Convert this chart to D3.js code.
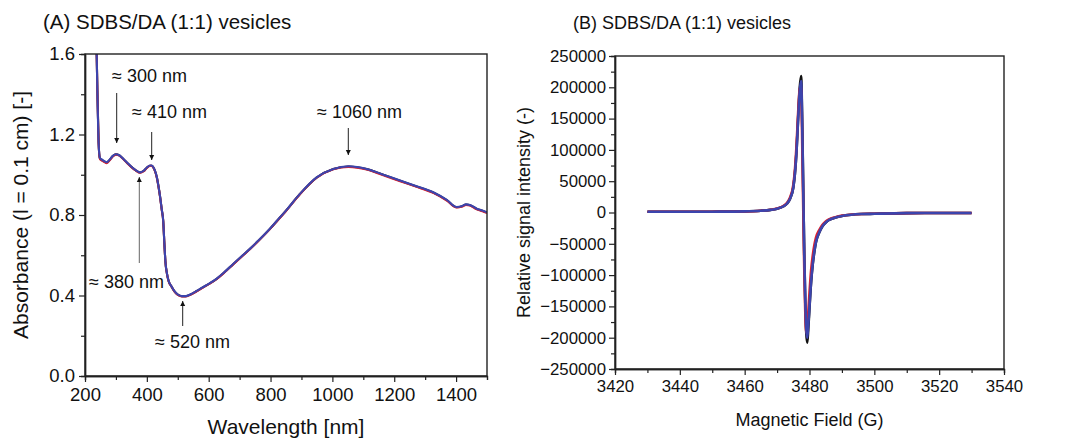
<!DOCTYPE html>
<html><head><meta charset="utf-8">
<script src="https://cdn.jsdelivr.net/npm/d3@7"></script>
<style>
html,body{margin:0;padding:0;background:#fff;}
svg{display:block;font-family:"Liberation Sans",Arial,sans-serif;}
</style></head>
<body><svg id="chart" width="1070" height="440"></svg>
<script>
// ---------- Panel A data (UV-Vis-NIR absorbance) ----------
const wavelength = [230,236,240,244,248,255,262,270,280,290,300,310,320,335,350,365,378,390,400,410,415,425,432,438,443,448,453,457,460,465,470,480,490,500,513,525,540,560,580,600,626,650,680,710,734,760,798,820,850,895,949,1003,1052,1111,1160,1219,1270,1326,1370,1402,1420,1432,1445,1467,1485,1500];
const absBlue  = [2.20,1.75,1.42,1.16,1.085,1.075,1.068,1.062,1.076,1.094,1.102,1.098,1.085,1.062,1.040,1.022,1.012,1.020,1.036,1.046,1.046,1.025,0.990,0.940,0.890,0.830,0.770,0.650,0.570,0.510,0.475,0.445,0.420,0.405,0.397,0.397,0.405,0.422,0.440,0.458,0.484,0.515,0.558,0.600,0.633,0.672,0.732,0.770,0.822,0.905,0.987,1.029,1.042,1.029,1.003,0.971,0.944,0.913,0.875,0.840,0.845,0.853,0.850,0.831,0.822,0.813];
const absRed   = [2.20,1.75,1.42,1.16,1.080,1.070,1.064,1.058,1.072,1.091,1.100,1.096,1.083,1.060,1.038,1.020,1.010,1.018,1.034,1.044,1.044,1.023,0.988,0.938,0.888,0.828,0.768,0.648,0.568,0.508,0.473,0.443,0.418,0.403,0.395,0.395,0.403,0.420,0.438,0.456,0.482,0.513,0.556,0.598,0.631,0.670,0.730,0.768,0.820,0.903,0.985,1.027,1.039,1.026,1.000,0.968,0.941,0.910,0.872,0.837,0.842,0.850,0.847,0.828,0.819,0.810];
const absBlack = [2.20,1.75,1.42,1.16,1.082,1.072,1.066,1.060,1.074,1.093,1.101,1.097,1.084,1.061,1.039,1.021,1.011,1.019,1.035,1.045,1.045,1.024,0.989,0.939,0.889,0.829,0.769,0.649,0.569,0.509,0.474,0.444,0.419,0.404,0.396,0.396,0.404,0.421,0.439,0.457,0.483,0.514,0.557,0.599,0.632,0.671,0.731,0.769,0.821,0.904,0.986,1.028,1.041,1.028,1.002,0.970,0.943,0.912,0.874,0.839,0.844,0.852,0.849,0.830,0.821,0.812];
const xTicksA = [200,400,600,800,1000,1200,1400];
const yTicksA = [0.0,0.4,0.8,1.2,1.6];
const annotationsA = [
  {label:"≈ 300 nm",  at:300,  dir:"down"},
  {label:"≈ 410 nm",  at:410,  dir:"down"},
  {label:"≈ 1060 nm", at:1060, dir:"down"},
  {label:"≈ 380 nm",  at:380,  dir:"up"},
  {label:"≈ 520 nm",  at:520,  dir:"up"}
];

// ---------- Panel B data (EPR spectrum) ----------
const field = [3430,3440,3450,3460,3465,3468,3470,3472,3473,3474,3475,3475.5,3476,3476.5,3477,3477.4,3477.8,3478.1,3478.4,3478.7,3479,3479.3,3479.6,3480,3480.5,3481,3481.5,3482,3483,3484,3485,3486,3488,3490,3493,3496,3500,3510,3520,3530];
const epBlue  = [1200,1100,1300,1800,2800,4200,6000,10000,14000,22000,40000,62000,98000,150000,195000,210000,125000,25000,-70000,-140000,-185000,-200000,-182000,-150000,-110000,-82000,-62000,-47000,-32000,-22000,-16000,-12000,-8000,-5500,-3500,-2500,-2000,-1000,-800,-700];
const epRed   = [1200,1100,1300,1800,2900,4400,6300,10500,15000,24000,44000,68000,108000,160000,198000,200000,95000,-5000,-95000,-160000,-192000,-185000,-162000,-128000,-92000,-69000,-52000,-40000,-28000,-19500,-14500,-11000,-7500,-5000,-3300,-2400,-1900,-1000,-800,-700];
const epBlack = [1200,1100,1300,1800,2800,4200,6000,10000,14000,22000,40000,62000,98000,152000,200000,218000,130000,27000,-72000,-145000,-192000,-208000,-188000,-152000,-111000,-82500,-62500,-47000,-32000,-22000,-16000,-12000,-8000,-5500,-3500,-2500,-2000,-1000,-800,-700];
const xTicksB = [3420,3440,3460,3480,3500,3520,3540];
const yTicksB = [-250000,-200000,-150000,-100000,-50000,0,50000,100000,150000,200000,250000];

const svg = d3.select("#chart");
const FONT = '"Liberation Sans",Arial,sans-serif';

function frame(g, x0, x1, y0, y1){
  g.append("rect").attr("x",x0).attr("y",y0).attr("width",x1-x0).attr("height",y1-y0)
   .attr("fill","none").attr("stroke","#222").attr("stroke-width",1.4);
}
function styleAxis(sel, fs){
  sel.selectAll("path.domain").attr("stroke","#222").attr("stroke-width",1.4);
  sel.selectAll(".tick line").attr("stroke","#222").attr("stroke-width",1.2);
  sel.selectAll(".tick text").attr("fill","#111").style("font-size",fs+"px").style("font-family",FONT);
}

// ================= Panel A =================
{
  const L=85,R=487,T=54,B=376;
  const x = d3.scaleLinear().domain([200,1500]).range([L,R]);
  const y = d3.scaleLinear().domain([0,1.6]).range([B,T]);
  const g = svg.append("g");
  const fs = 18.5;

  const xMinor = d3.range(300,1500,200);
  const yMinor = [0.2,0.6,1.0,1.4];
  g.append("g").attr("transform",`translate(0,${B})`)
    .call(d3.axisBottom(x).tickValues(xMinor).tickSize(4).tickFormat(""))
    .call(s=>styleAxis(s,fs));
  g.append("g").attr("transform",`translate(${L},0)`)
    .call(d3.axisLeft(y).tickValues(yMinor).tickSize(4).tickFormat(""))
    .call(s=>styleAxis(s,fs));
  g.append("g").attr("transform",`translate(0,${B})`)
    .call(d3.axisBottom(x).tickValues(xTicksA).tickSize(6).tickSizeOuter(0).tickPadding(6).tickFormat(d3.format("d")))
    .call(s=>styleAxis(s,fs));
  g.append("g").attr("transform",`translate(${L},0)`)
    .call(d3.axisLeft(y).tickValues(yTicksA).tickSize(6).tickSizeOuter(0).tickPadding(4).tickFormat(d3.format(".1f")))
    .call(s=>styleAxis(s,fs));

  svg.append("clipPath").attr("id","clipA").append("rect")
    .attr("x",L).attr("y",T).attr("width",R-L).attr("height",B-T);
  const line = d3.line().x((d,i)=>x(wavelength[i])).y(d=>y(d)).curve(d3.curveMonotoneX);
  const series = [{v:absBlack,c:"#111"},{v:absRed,c:"#e0202c"},{v:absBlue,c:"#3c44ad"}];
  series.forEach(s=>{
    g.append("path").datum(s.v).attr("d",line).attr("fill","none")
     .attr("stroke",s.c).attr("stroke-width",2.1).attr("clip-path","url(#clipA)");
  });
  frame(g,L,R,T,B);

  const defs = svg.append("defs");
  defs.append("marker").attr("id","ah").attr("viewBox","0 0 10 10").attr("refX",10).attr("refY",5)
    .attr("markerWidth",5).attr("markerHeight",8).attr("markerUnits","userSpaceOnUse").attr("orient","auto")
    .append("path").attr("d","M0,0 L10,5 L0,10 z").attr("fill","#111");
  const annPos = {
    300:{ax:116.7, tx:112, ty:82, y1:93, y2:143},
    410:{ax:151.7, tx:132, ty:118, y1:132, y2:160},
    1060:{ax:348.3, tx:317, ty:118, y1:128, y2:155},
    380:{ax:139.3, tx:89, ty:288, y1:263, y2:177},
    520:{ax:182.7, tx:155, ty:348, y1:326, y2:301}
  };
  annotationsA.forEach(a=>{
    const p = annPos[a.at];
    g.append("line").attr("x1",p.ax).attr("x2",p.ax).attr("y1",p.y1).attr("y2",p.y2)
      .attr("stroke", a.at===380 ? "#666":"#222").attr("stroke-width",1)
      .attr("marker-end","url(#ah)");
    g.append("text").attr("x",p.tx).attr("y",p.ty).text(a.label)
      .style("font-size","18px").style("font-family",FONT).attr("fill","#111");
  });

  g.append("text").attr("x",43).attr("y",29).text("(A) SDBS/DA (1:1) vesicles")
    .style("font-size","20.5px").style("font-family",FONT).attr("fill","#111");
  g.append("text").attr("x",(L+R)/2).attr("y",434).attr("text-anchor","middle").text("Wavelength [nm]")
    .style("font-size","21px").style("font-family",FONT).attr("fill","#111");
  g.append("text").attr("transform",`translate(28,${(T+B)/2}) rotate(-90)`).attr("text-anchor","middle")
    .text("Absorbance (l = 0.1 cm) [-]").style("font-size","21px").style("font-family",FONT).attr("fill","#111");
}

// ================= Panel B =================
{
  const L=615,R=1004,T=56,B=369;
  const x = d3.scaleLinear().domain([3420,3540]).range([L,R]);
  const y = d3.scaleLinear().domain([-250000,250000]).range([B,T]);
  const g = svg.append("g");
  const fs = 16.8;
  const xMinor = d3.range(3430,3540,20);
  const yMinor = d3.range(-225000,250000,50000);
  g.append("g").attr("transform",`translate(0,${B})`)
    .call(d3.axisBottom(x).tickValues(xMinor).tickSize(4).tickFormat(""))
    .call(s=>styleAxis(s,fs));
  g.append("g").attr("transform",`translate(${L},0)`)
    .call(d3.axisLeft(y).tickValues(yMinor).tickSize(4).tickFormat(""))
    .call(s=>styleAxis(s,fs));
  g.append("g").attr("transform",`translate(0,${B})`)
    .call(d3.axisBottom(x).tickValues(xTicksB).tickSize(6).tickSizeOuter(0).tickPadding(5).tickFormat(d3.format("d")))
    .call(s=>styleAxis(s,fs));
  g.append("g").attr("transform",`translate(${L},0)`)
    .call(d3.axisLeft(y).tickValues(yTicksB).tickSize(6).tickSizeOuter(0).tickPadding(3).tickFormat(d3.format("d")))
    .call(s=>styleAxis(s,fs));

  const line = d3.line().x((d,i)=>x(field[i])).y(d=>y(d)).curve(d3.curveMonotoneX);
  const series = [{v:epBlack,c:"#111"},{v:epRed,c:"#e0202c"},{v:epBlue,c:"#3c44ad"}];
  series.forEach(s=>{
    g.append("path").datum(s.v).attr("d",line).attr("fill","none")
     .attr("stroke",s.c).attr("stroke-width",2.6);
  });
  frame(g,L,R,T,B);

  g.append("text").attr("x",573).attr("y",29).text("(B) SDBS/DA (1:1) vesicles")
    .style("font-size","18px").style("font-family",FONT).attr("fill","#111");
  g.append("text").attr("x",(L+R)/2).attr("y",426).attr("text-anchor","middle").text("Magnetic Field (G)")
    .style("font-size","18px").style("font-family",FONT).attr("fill","#111");
  g.append("text").attr("transform",`translate(530,${(T+B)/2}) rotate(-90)`).attr("text-anchor","middle")
    .text("Relative signal intensity (-)").style("font-size","18px").style("font-family",FONT).attr("fill","#111");
}
</script>
</body></html>
